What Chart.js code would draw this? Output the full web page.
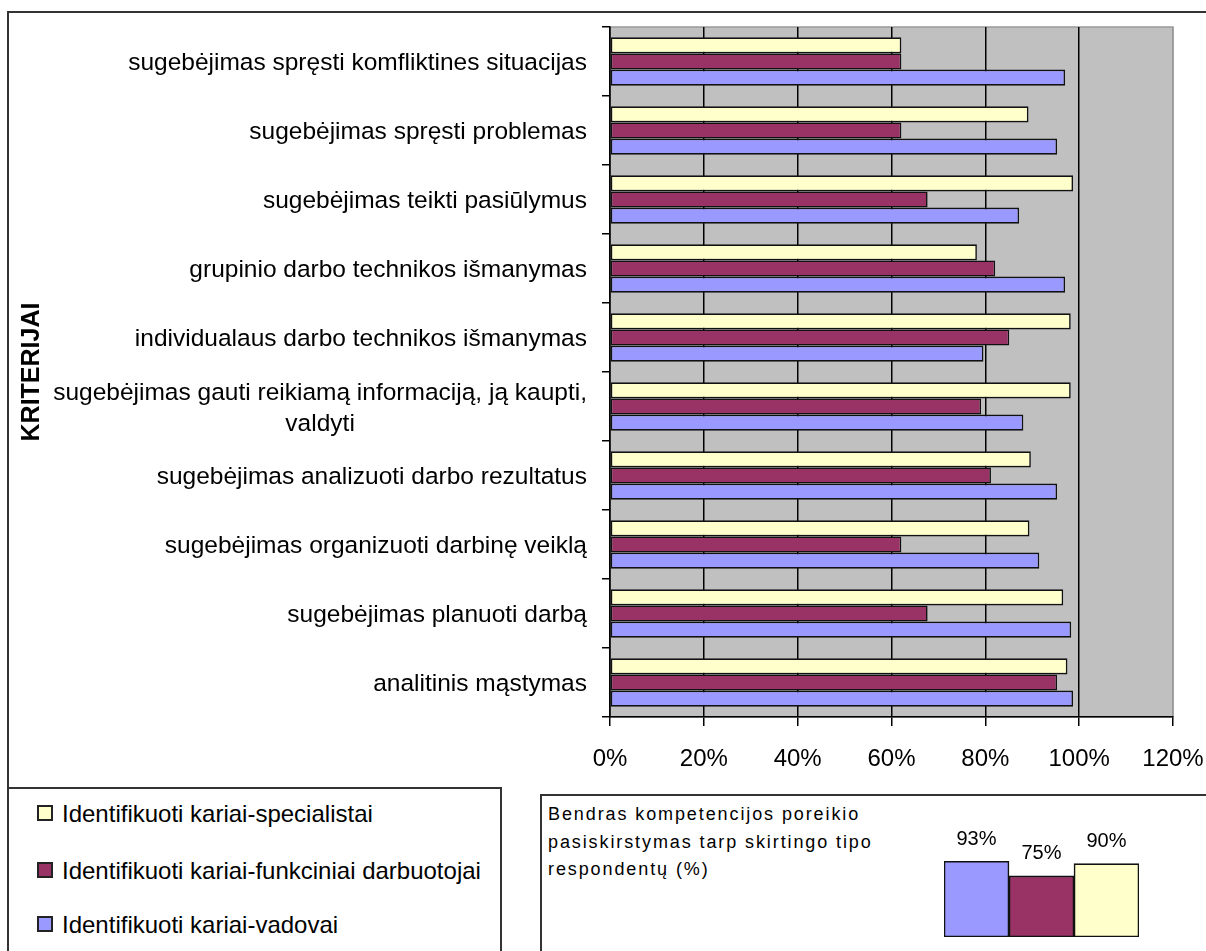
<!DOCTYPE html>
<html>
<head>
<meta charset="UTF-8">
<title>Kompetencijų poreikis</title>
<script src="https://cdn.jsdelivr.net/npm/chart.js@4.4.1/dist/chart.umd.min.js"></script>
<style type="text/css">
    body { margin: 0; background: #fff; font-family: "Liberation Sans", Arial, sans-serif; color: #000; }
    #wrap { position: relative; width: 1206px; height: 951px; overflow: hidden; }
    #frame { position: absolute; left: 7px; top: 11px; width: 1300px; height: 1000px; border-top: 2px solid #333; border-left: 2px solid #333; }
    #canvas-holder { position: absolute; left: 0; top: 0; width: 1206px; height: 790px; }
    #legend { position: absolute; left: 7px; top: 787px; width: 491px; height: 200px; border: 2px solid #333; background: #fff; }
    #legend div { position: absolute; left: 28px; font-size: 24px; line-height: 28px; white-space: nowrap; }
    #legend font { display: inline-block; width: 12px; height: 12px; border: 2px solid #222; margin-right: 9px; vertical-align: 1px; }
    #inset { position: absolute; left: 540px; top: 794px; width: 700px; height: 200px; border: 2px solid #333; background: #fff; }
    #inset-text { position: absolute; left: 6px; top: 5px; font-size: 18px; line-height: 27.5px; letter-spacing: 1.9px; }
    #inset-holder { position: absolute; left: 944px; top: 815px; width: 195px; height: 122px; }
</style>
</head>
<body>
<div id="wrap">
    <div id="frame"></div>
    <div id="canvas-holder"><canvas id="chart-area"></canvas></div>
    <div id="legend"></div>
    <div id="inset">
        <div id="inset-text">Bendras kompetencijos poreikio<br>pasiskirstymas tarp skirtingo tipo<br>respondentų (%)</div>
    </div>
    <div id="inset-holder"><canvas id="chart-inset"></canvas></div>
</div>
<script language="javascript" type="text/javascript">
    // kriterijai, is virsaus i apacia
    var kriterijai = [
        ['sugebėjimas spręsti komfliktines situacijas'],
        ['sugebėjimas spręsti problemas'],
        ['sugebėjimas teikti pasiūlymus'],
        ['grupinio darbo technikos išmanymas'],
        ['individualaus darbo technikos išmanymas'],
        ['sugebėjimas gauti reikiamą informaciją, ją kaupti,', 'valdyti'],
        ['sugebėjimas analizuoti darbo rezultatus'],
        ['sugebėjimas organizuoti darbinę veiklą'],
        ['sugebėjimas planuoti darbą'],
        ['analitinis mąstymas']
    ];
    var specialistai = [62.1, 89.2, 98.7, 78.2, 98.2, 98.2, 89.7, 89.4, 96.6, 97.5];
    var funkciniai   = [62.1, 62.1, 67.7, 82.1, 85.1, 79.1, 81.2, 62.1, 67.7, 95.3];
    var vadovai      = [97.0, 95.3, 87.2, 97.0, 79.6, 88.1, 95.3, 91.5, 98.3, 98.7];
    var xTicks = [0, 20, 40, 60, 80, 100, 120];

    // bendras pasiskirstymas
    var bendrasGrupes = ['vadovai', 'funkciniai darbuotojai', 'specialistai'];
    var bendrasReiksmes = [93, 75, 90];

    var cYellow = '#FFFFCC', cMaroon = '#993366', cBlue = '#9999FF';
    var fontFam = '"Liberation Sans", Arial, sans-serif';

    var plotBg = {
        id: 'plotBg',
        beforeDraw: function (chart) {
            var a = chart.chartArea, ctx = chart.ctx;
            ctx.save();
            ctx.fillStyle = '#C0C0C0';
            ctx.fillRect(a.left, a.top, a.right - a.left, a.bottom - a.top);
            ctx.strokeStyle = '#999';
            ctx.lineWidth = 1.5;
            ctx.strokeRect(a.left, a.top, a.right - a.left, a.bottom - a.top);
            ctx.restore();
        }
    };

    // kategoriju pavadinimai: blokas lygiuojamas desineje, eilutes centruojamos
    var yLabels = {
        id: 'yLabels',
        afterDraw: function (chart) {
            var sc = chart.scales.y, ctx = chart.ctx;
            var right = sc.right - 8 - 15;
            ctx.save();
            ctx.font = '24.5px ' + fontFam;
            ctx.fillStyle = '#000';
            ctx.textAlign = 'center';
            ctx.textBaseline = 'middle';
            sc.ticks.forEach(function (t, i) {
                var lines = [].concat(chart.data.labels[i]);
                var w = 0;
                lines.forEach(function (s) { w = Math.max(w, ctx.measureText(s).width); });
                var y0 = sc.getPixelForTick(i) + 2 - (lines.length - 1) * 31 / 2;
                lines.forEach(function (s, k) { ctx.fillText(s, right - w / 2, y0 + k * 31); });
            });
            ctx.restore();
        }
    };

    var valueLabels = {
        id: 'valueLabels',
        afterDatasetsDraw: function (chart) {
            var ctx = chart.ctx;
            var meta = chart.getDatasetMeta(0);
            ctx.save();
            ctx.font = '20px ' + fontFam;
            ctx.fillStyle = '#000';
            ctx.textAlign = 'center';
            ctx.textBaseline = 'middle';
            meta.data.forEach(function (bar, i) {
                ctx.fillText(chart.data.datasets[0].data[i] + '%', bar.x, bar.y - 22);
            });
            ctx.restore();
        }
    };

    function BuildChart() {
        var config = {
            type: 'bar',
            data: {
                labels: kriterijai,
                datasets: [
                    { label: 'Identifikuoti kariai-specialistai', data: specialistai, backgroundColor: cYellow },
                    { label: 'Identifikuoti kariai-funkciniai darbuotojai', data: funkciniai, backgroundColor: cMaroon },
                    { label: 'Identifikuoti kariai-vadovai', data: vadovai, backgroundColor: cBlue }
                ]
            },
            options: {
                indexAxis: 'y',
                responsive: true,
                maintainAspectRatio: false,
                animation: false,
                layout: { padding: { top: 27, right: 33, left: 0, bottom: 0 } },
                datasets: {
                    bar: { borderColor: '#111', borderWidth: 1.6, borderSkipped: false, categoryPercentage: 0.7, barPercentage: 1 }
                },
                plugins: { legend: { display: false }, tooltip: { enabled: false } },
                scales: {
                    x: {
                        min: 0, max: 120,
                        afterBuildTicks: function (s) { s.ticks = xTicks.map(function (v) { return { value: v }; }); },
                        ticks: { color: '#000', font: { family: fontFam, size: 24 }, padding: 19, callback: function (v) { return v + '%'; } },
                        grid: {
                            color: function (c) { return c.tick && c.tick.value === 120 ? '#999' : '#000'; },
                            tickColor: '#000', tickLength: 9, lineWidth: 1.5
                        },
                        border: { color: '#000', width: 1.5 },
                        afterFit: function (s) { s.height = 73; s.paddingLeft = 0; s.paddingRight = 0; }
                    },
                    y: {
                        grid: { drawOnChartArea: false, drawTicks: true, tickLength: 8, tickColor: '#000', lineWidth: 1.5 },
                        border: { color: '#000', width: 1.5 },
                        ticks: { display: false },
                        title: { display: true, text: 'KRITERIJAI', color: '#000', font: { family: fontFam, size: 25, weight: 'bold' }, padding: { top: 17, bottom: 0 } },
                        afterFit: function (s) { s.width = 610; s.paddingTop = 0; s.paddingBottom = 0; }
                    }
                }
            },
            plugins: [plotBg, yLabels]
        };
        var ctx = document.getElementById('chart-area').getContext('2d');
        window.myBar = new Chart(ctx, config);

        // legenda is duomenu rinkiniu
        var lg = document.getElementById('legend');
        var tops = [11, 67.7, 121.7];
        config.data.datasets.forEach(function (ds, i) {
            var d = document.createElement('div');
            d.style.top = tops[i] + 'px';
            d.innerHTML = "<font style='background:" + ds.backgroundColor + "'></font>" + ds.label;
            lg.appendChild(d);
        });
    }

    function BuildInset() {
        var config = {
            type: 'bar',
            data: {
                labels: bendrasGrupes,
                datasets: [{
                    data: bendrasReiksmes,
                    backgroundColor: [cBlue, cMaroon, cYellow],
                    borderColor: '#111', borderWidth: 1.6, borderSkipped: false,
                    categoryPercentage: 1, barPercentage: 1
                }]
            },
            options: {
                responsive: true,
                maintainAspectRatio: false,
                animation: false,
                layout: { padding: { top: 40.5 } },
                plugins: { legend: { display: false }, tooltip: { enabled: false } },
                scales: {
                    x: { display: false },
                    y: { display: false, min: 0, max: 100 }
                }
            },
            plugins: [valueLabels]
        };
        window.myInset = new Chart(document.getElementById('chart-inset').getContext('2d'), config);
    }

    BuildChart();
    BuildInset();
</script>
</body>
</html>
